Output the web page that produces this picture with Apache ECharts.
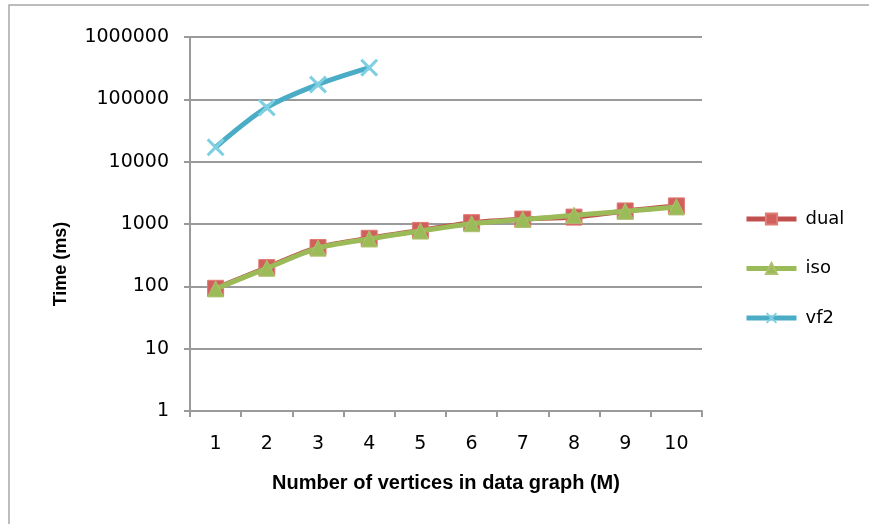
<!DOCTYPE html>
<html><head><meta charset="utf-8">
<script src="https://cdn.jsdelivr.net/npm/echarts@6/dist/echarts.min.js"></script>
<style>html,body{margin:0;padding:0;background:#fff;overflow:hidden}#c{width:869px;height:524px}</style>
</head><body><div id="c"></div>
<script>
var categories = ['1','2','3','4','5','6','7','8','9','10'];
var dual = [93, 200, 420, 590, 790, 1050, 1200, 1290, 1620, 1950];
var iso  = [91, 195, 410, 575, 770, 1010, 1180, 1380, 1600, 1880];
var vf2  = [17000, 74000, 173000, 322000];
var seriesNames = ['dual', 'iso', 'vf2'];

var crossPath = 'path://M0,1.2 L1.2,0 L5,3.8 L8.8,0 L10,1.2 L6.2,5 L10,8.8 L8.8,10 L5,6.2 L1.2,10 L0,8.8 L3.8,5 Z';
var chart = echarts.init(document.getElementById('c'), null, {renderer: 'canvas'});
var gray = '#9a9a9a';
chart.setOption({
  animation: false,
  backgroundColor: '#fff',
  textStyle: {fontFamily: 'DejaVu Sans'},
  grid: {left: 190, right: 167, top: 37, bottom: 113, containLabel: false},
  legend: {
    orient: 'vertical', left: 744, top: 210, padding: 0,
    itemWidth: 50, itemHeight: 14, itemGap: 31.5,
    lineStyle: {width: 5},
    textStyle: {fontSize: 18, color: '#000', fontFamily: 'DejaVu Sans', padding: [0, 0, 0, 4]},
    data: seriesNames
  },
  xAxis: {
    type: 'category', data: categories, boundaryGap: true,
    name: 'Number of vertices in data graph (M)', nameLocation: 'middle', nameGap: 62,
    nameTextStyle: {fontFamily: 'Liberation Sans', fontWeight: 'bold', fontSize: 20, color: '#000'},
    axisLine: {lineStyle: {color: gray, width: 2}},
    axisTick: {show: true, length: 6, lineStyle: {color: gray, width: 2}, alignWithLabel: false},
    axisLabel: {fontSize: 19, color: '#000', margin: 24}
  },
  yAxis: {
    type: 'log', logBase: 10, min: 1, max: 1000000,
    axisLine: {show: true, lineStyle: {color: gray, width: 2}},
    axisTick: {show: true, length: 6, lineStyle: {color: gray, width: 2}},
    splitLine: {show: true, lineStyle: {color: gray, width: 2}},
    minorTick: {show: false},
    axisLabel: {fontSize: 19, color: '#000', margin: 21, formatter: function(v){return String(Math.round(v));}}
  },
  graphic: [
    {type: 'polyline', shape: {points: [[9, 524], [9, 5], [869, 5]]}, style: {fill: 'none', stroke: '#a8a8a8', lineWidth: 1.5}, z: -10},
    {type: 'text', x: 61, y: 264, rotation: Math.PI / 2,
     style: {text: 'Time (ms)', fontFamily: 'Liberation Sans', fontWeight: 'bold', fontSize: 18, fill: '#000', align: 'center', verticalAlign: 'middle'}}
  ],
  series: [
    {name: 'dual', type: 'line', data: dual, smooth: 0.3, symbol: 'rect', symbolSize: 16,
     lineStyle: {color: '#c0504d', width: 5}, itemStyle: {color: '#d0605b', borderColor: '#e07a75', borderWidth: 1}, z: 2},
    {name: 'iso', type: 'line', data: iso, smooth: 0.3, symbol: 'triangle', symbolSize: 16,
     lineStyle: {color: '#9bbb59', width: 5}, itemStyle: {color: '#9bbb59', borderColor: '#b0c070', borderWidth: 1}, z: 3},
    {name: 'vf2', type: 'line', data: vf2, smooth: 0.3, symbol: crossPath, symbolSize: 18,
     lineStyle: {color: '#4bacc6', width: 5}, itemStyle: {color: '#7fcfe2'}, z: 4}
  ]
});
</script></body></html>
